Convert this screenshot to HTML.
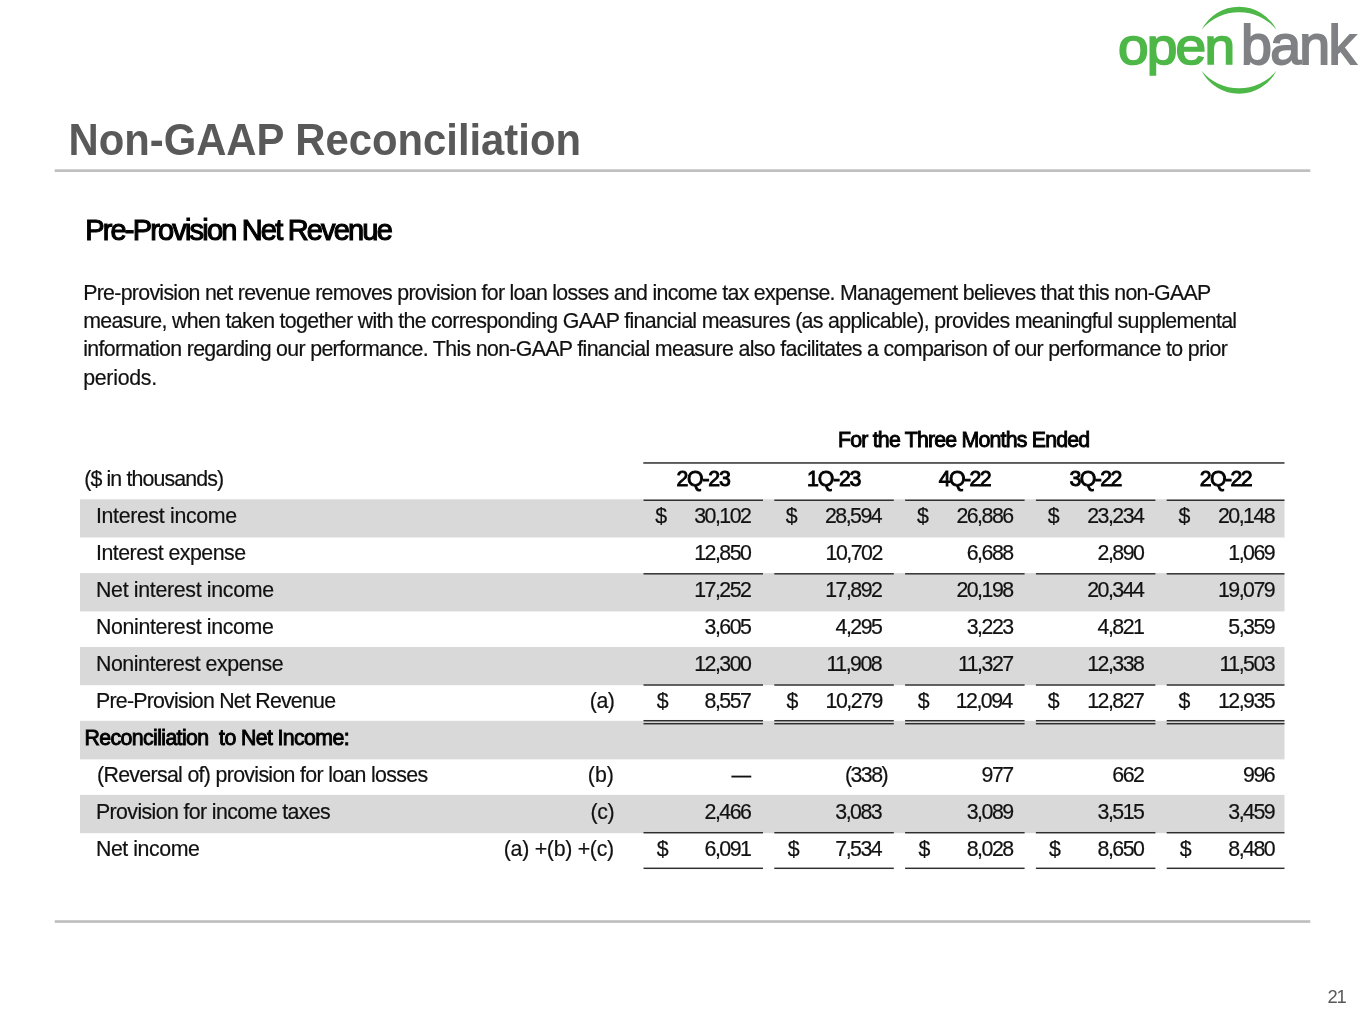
<!DOCTYPE html>
<html lang="en">
<head>
<meta charset="utf-8">
<title>Non-GAAP Reconciliation</title>
<style>
html,body{margin:0;padding:0;background:#fff;}
body{width:1365px;height:1024px;position:relative;overflow:hidden;font-family:"Liberation Sans",sans-serif;}
.abs{position:absolute;white-space:nowrap;line-height:1;}
.title{font-size:41.8px;font-weight:bold;color:#595959;transform-origin:0 35.4px;transform:scaleY(1.045);}
.sub{font-size:29px;color:#000;letter-spacing:-1px;-webkit-text-stroke:1.1px #000;}
.p{font-size:21.33px;color:#111;letter-spacing:-0.7px;-webkit-text-stroke:0.2px #111;}
.t{font-size:21.33px;color:#111;letter-spacing:-0.45px;-webkit-text-stroke:0.2px #111;}
.num{font-size:21.33px;color:#111;letter-spacing:-1.5px;-webkit-text-stroke:0.2px #111;}
.h{font-size:21.33px;color:#000;letter-spacing:-1.2px;-webkit-text-stroke:0.9px #000;}
.hb{font-size:21.33px;color:#000;letter-spacing:-0.9px;-webkit-text-stroke:0.9px #000;}
.lines{position:absolute;left:0;top:0;}
.pg{font-size:18.4px;color:#595959;}
.logo{position:absolute;left:1100px;top:0;}
</style>
</head>
<body>
<svg class="logo" width="265" height="105" viewBox="1100 0 265 105">
<path d="M1201.6 29.7 A41.9 41.9 0 0 1 1276.4 29.7 A48.7 48.7 0 0 0 1201.6 29.7 Z" fill="#4db748"/>
<path d="M1201.6 70.8 A41.9 41.9 0 0 0 1276.4 70.8 A48.7 48.7 0 0 1 1201.6 70.8 Z" fill="#4db748"/>
<g transform="translate(1117.9,64.1) scale(1.06,1)"><text x="0" y="0" font-family="Liberation Sans, sans-serif" font-size="52" fill="#4db748" stroke="#4db748" stroke-width="1.7" textLength="110.6" lengthAdjust="spacing">open</text></g>
<text x="1241.0" y="63.8" font-family="Liberation Sans, sans-serif" font-size="55.5" fill="#808184" stroke="#808184" stroke-width="1.8" textLength="115.2" lengthAdjust="spacing">bank</text>
</svg>
<svg class="lines" width="1365" height="1024" viewBox="0 0 1365 1024" fill="#d9d9d9">
<rect x="80" y="499.3" width="1204.5" height="38.2"/>
<rect x="80" y="573.1" width="1204.5" height="38.3"/>
<rect x="80" y="647.0" width="1204.5" height="38.2"/>
<rect x="80" y="720.8" width="1204.5" height="38.6"/>
<rect x="80" y="794.9" width="1204.5" height="38.3"/>
</svg>
<svg class="lines" width="1365" height="1024" viewBox="0 0 1365 1024" fill="#2e2e2e">
<rect x="643.3" y="462.2" width="641.2" height="1.5"/>
<rect x="643.5" y="499.53" width="119.5" height="1.45"/>
<rect x="774.3" y="499.53" width="119.5" height="1.45"/>
<rect x="905.1" y="499.53" width="119.5" height="1.45"/>
<rect x="1035.9" y="499.53" width="119.5" height="1.45"/>
<rect x="1166.7" y="499.53" width="117.8" height="1.45"/>
<rect x="643.5" y="573.08" width="119.5" height="1.45"/>
<rect x="774.3" y="573.08" width="119.5" height="1.45"/>
<rect x="905.1" y="573.08" width="119.5" height="1.45"/>
<rect x="1035.9" y="573.08" width="119.5" height="1.45"/>
<rect x="1166.7" y="573.08" width="117.8" height="1.45"/>
<rect x="643.5" y="684.28" width="119.5" height="1.45"/>
<rect x="774.3" y="684.28" width="119.5" height="1.45"/>
<rect x="905.1" y="684.28" width="119.5" height="1.45"/>
<rect x="1035.9" y="684.28" width="119.5" height="1.45"/>
<rect x="1166.7" y="684.28" width="117.8" height="1.45"/>
<rect x="643.5" y="719.98" width="119.5" height="1.45"/>
<rect x="774.3" y="719.98" width="119.5" height="1.45"/>
<rect x="905.1" y="719.98" width="119.5" height="1.45"/>
<rect x="1035.9" y="719.98" width="119.5" height="1.45"/>
<rect x="1166.7" y="719.98" width="117.8" height="1.45"/>
<rect x="643.5" y="722.98" width="119.5" height="1.45"/>
<rect x="774.3" y="722.98" width="119.5" height="1.45"/>
<rect x="905.1" y="722.98" width="119.5" height="1.45"/>
<rect x="1035.9" y="722.98" width="119.5" height="1.45"/>
<rect x="1166.7" y="722.98" width="117.8" height="1.45"/>
<rect x="643.5" y="831.98" width="119.5" height="1.45"/>
<rect x="774.3" y="831.98" width="119.5" height="1.45"/>
<rect x="905.1" y="831.98" width="119.5" height="1.45"/>
<rect x="1035.9" y="831.98" width="119.5" height="1.45"/>
<rect x="1166.7" y="831.98" width="117.8" height="1.45"/>
<rect x="643.5" y="867.58" width="119.5" height="1.45"/>
<rect x="774.3" y="867.58" width="119.5" height="1.45"/>
<rect x="905.1" y="867.58" width="119.5" height="1.45"/>
<rect x="1035.9" y="867.58" width="119.5" height="1.45"/>
<rect x="1166.7" y="867.58" width="117.8" height="1.45"/>
<rect x="54.7" y="169.3" width="1255.6" height="2.67" fill="#bfbfbf"/>
<rect x="54.7" y="920.2" width="1255.6" height="2.67" fill="#bfbfbf"/>
</svg>
<div id="title" class="abs title" style="top:119.82px;left:68.50px;">Non-GAAP Reconciliation</div>
<div id="sub" class="abs sub" style="top:215.85px;left:85.20px;letter-spacing:-1.825px;">Pre-Provision Net Revenue</div>
<div id="p1" class="abs p" style="top:283.00px;left:83.20px;">Pre-provision net revenue removes provision for loan losses and income tax expense. Management believes that this non-GAAP</div>
<div id="p2" class="abs p" style="top:311.00px;left:83.20px;letter-spacing:-0.673px;">measure, when taken together with the corresponding GAAP financial measures (as applicable), provides meaningful supplemental</div>
<div id="p3" class="abs p" style="top:339.00px;left:83.20px;letter-spacing:-0.661px;">information regarding our performance. This non-GAAP financial measure also facilitates a comparison of our performance to prior</div>
<div id="p4" class="abs p" style="top:368.00px;left:83.20px;letter-spacing:-0.271px;">periods.</div>
<div id="h0" class="abs h" style="top:430.00px;left:838.00px;letter-spacing:-0.804px;">For the Three Months Ended</div>
<div id="hc0" class="abs h" style="top:469.00px;left:676.40px;">2Q-23</div>
<div id="hc1" class="abs h" style="top:469.00px;left:807.00px;">1Q-23</div>
<div id="hc2" class="abs h" style="top:469.00px;left:938.80px;letter-spacing:-1.600px;">4Q-22</div>
<div id="hc3" class="abs h" style="top:469.00px;left:1069.60px;letter-spacing:-1.600px;">3Q-22</div>
<div id="hc4" class="abs h" style="top:469.00px;left:1199.80px;letter-spacing:-1.600px;">2Q-22</div>
<div id="u" class="abs t" style="top:469.00px;left:84.20px;letter-spacing:-0.870px;">($ in thousands)</div>
<div id="l0" class="abs t" style="top:506.00px;left:96.00px;letter-spacing:-0.336px;">Interest income</div>
<div id="l1" class="abs t" style="top:543.00px;left:96.00px;letter-spacing:-0.510px;">Interest expense</div>
<div id="l2" class="abs t" style="top:580.00px;left:96.00px;letter-spacing:-0.318px;">Net interest income</div>
<div id="l3" class="abs t" style="top:617.00px;left:96.00px;letter-spacing:-0.344px;">Noninterest income</div>
<div id="l4" class="abs t" style="top:654.00px;left:96.00px;">Noninterest expense</div>
<div id="l5" class="abs t" style="top:691.00px;left:96.00px;letter-spacing:-0.767px;">Pre-Provision Net Revenue</div>
<div id="l6" class="abs hb" style="top:728.00px;left:84.50px;letter-spacing:-0.627px;">Reconciliation&nbsp; to Net Income:</div>
<div id="l7" class="abs t" style="top:765.00px;left:97.00px;letter-spacing:-0.676px;">(Reversal of) provision for loan losses</div>
<div id="l8" class="abs t" style="top:802.00px;left:96.00px;letter-spacing:-0.614px;">Provision for income taxes</div>
<div id="l9" class="abs t" style="top:839.00px;left:96.00px;">Net income</div>
<div id="n5" class="abs t" style="top:691.00px;left:589.80px;">(a)</div>
<div id="n7" class="abs t" style="top:765.00px;left:587.80px;letter-spacing:0.050px;">(b)</div>
<div id="n8" class="abs t" style="top:802.00px;left:590.60px;">(c)</div>
<div id="n9" class="abs t" style="top:839.00px;left:503.80px;letter-spacing:-0.283px;">(a) +(b) +(c)</div>
<div id="d0_0" class="abs num" style="top:506.00px;right:614.60px;">30,102</div>
<div id="d0_1" class="abs num" style="top:506.00px;right:483.80px;">28,594</div>
<div id="d0_2" class="abs num" style="top:506.00px;right:352.40px;">26,886</div>
<div id="d0_3" class="abs num" style="top:506.00px;right:221.60px;">23,234</div>
<div id="d0_4" class="abs num" style="top:506.00px;right:90.80px;">20,148</div>
<div id="s0_0" class="abs t" style="top:506.00px;left:655.30px;">$</div>
<div id="s0_1" class="abs t" style="top:506.00px;left:785.70px;">$</div>
<div id="s0_2" class="abs t" style="top:506.00px;left:917.10px;">$</div>
<div id="s0_3" class="abs t" style="top:506.00px;left:1047.70px;">$</div>
<div id="s0_4" class="abs t" style="top:506.00px;left:1178.50px;">$</div>
<div id="d1_0" class="abs num" style="top:543.00px;right:614.60px;">12,850</div>
<div id="d1_1" class="abs num" style="top:543.00px;right:483.20px;">10,702</div>
<div id="d1_2" class="abs num" style="top:543.00px;right:352.40px;">6,688</div>
<div id="d1_3" class="abs num" style="top:543.00px;right:221.60px;">2,890</div>
<div id="d1_4" class="abs num" style="top:543.00px;right:90.80px;">1,069</div>
<div id="d2_0" class="abs num" style="top:580.00px;right:614.60px;">17,252</div>
<div id="d2_1" class="abs num" style="top:580.00px;right:483.60px;">17,892</div>
<div id="d2_2" class="abs num" style="top:580.00px;right:352.40px;">20,198</div>
<div id="d2_3" class="abs num" style="top:580.00px;right:221.60px;">20,344</div>
<div id="d2_4" class="abs num" style="top:580.00px;right:90.80px;">19,079</div>
<div id="d3_0" class="abs num" style="top:617.00px;right:614.60px;">3,605</div>
<div id="d3_1" class="abs num" style="top:617.00px;right:483.60px;">4,295</div>
<div id="d3_2" class="abs num" style="top:617.00px;right:352.40px;">3,223</div>
<div id="d3_3" class="abs num" style="top:617.00px;right:221.60px;">4,821</div>
<div id="d3_4" class="abs num" style="top:617.00px;right:90.80px;">5,359</div>
<div id="d4_0" class="abs num" style="top:654.00px;right:614.60px;">12,300</div>
<div id="d4_1" class="abs num" style="top:654.00px;right:483.80px;">11,908</div>
<div id="d4_2" class="abs num" style="top:654.00px;right:352.40px;">11,327</div>
<div id="d4_3" class="abs num" style="top:654.00px;right:221.60px;">12,338</div>
<div id="d4_4" class="abs num" style="top:654.00px;right:90.80px;">11,503</div>
<div id="d5_0" class="abs num" style="top:691.00px;right:614.60px;">8,557</div>
<div id="d5_1" class="abs num" style="top:691.00px;right:483.20px;">10,279</div>
<div id="d5_2" class="abs num" style="top:691.00px;right:353.10px;">12,094</div>
<div id="d5_3" class="abs num" style="top:691.00px;right:221.60px;">12,827</div>
<div id="d5_4" class="abs num" style="top:691.00px;right:90.80px;">12,935</div>
<div id="s5_0" class="abs t" style="top:691.00px;left:656.70px;">$</div>
<div id="s5_1" class="abs t" style="top:691.00px;left:786.50px;">$</div>
<div id="s5_2" class="abs t" style="top:691.00px;left:917.76px;">$</div>
<div id="s5_3" class="abs t" style="top:691.00px;left:1047.70px;">$</div>
<div id="s5_4" class="abs t" style="top:691.00px;left:1178.50px;">$</div>
<div id="d7_0" class="abs num" style="top:765.00px;right:615.20px;transform-origin:100% 50%;transform:scaleX(0.92);">&mdash;</div>
<div id="d7_1" class="abs num" style="top:765.00px;right:477.80px;">(338)</div>
<div id="d7_2" class="abs num" style="top:765.00px;right:352.40px;">977</div>
<div id="d7_3" class="abs num" style="top:765.00px;right:221.60px;">662</div>
<div id="d7_4" class="abs num" style="top:765.00px;right:90.80px;">996</div>
<div id="d8_0" class="abs num" style="top:802.00px;right:614.60px;">2,466</div>
<div id="d8_1" class="abs num" style="top:802.00px;right:483.80px;">3,083</div>
<div id="d8_2" class="abs num" style="top:802.00px;right:352.40px;">3,089</div>
<div id="d8_3" class="abs num" style="top:802.00px;right:221.60px;">3,515</div>
<div id="d8_4" class="abs num" style="top:802.00px;right:90.80px;">3,459</div>
<div id="d9_0" class="abs num" style="top:839.00px;right:614.60px;">6,091</div>
<div id="d9_1" class="abs num" style="top:839.00px;right:483.80px;">7,534</div>
<div id="d9_2" class="abs num" style="top:839.00px;right:352.40px;">8,028</div>
<div id="d9_3" class="abs num" style="top:839.00px;right:221.60px;">8,650</div>
<div id="d9_4" class="abs num" style="top:839.00px;right:90.80px;">8,480</div>
<div id="s9_0" class="abs t" style="top:839.00px;left:656.70px;">$</div>
<div id="s9_1" class="abs t" style="top:839.00px;left:787.80px;">$</div>
<div id="s9_2" class="abs t" style="top:839.00px;left:918.60px;">$</div>
<div id="s9_3" class="abs t" style="top:839.00px;left:1049.05px;">$</div>
<div id="s9_4" class="abs t" style="top:839.00px;left:1179.70px;">$</div>
<div id="pg" class="abs pg" style="top:987.52px;left:1327.40px;letter-spacing:-1.200px;">21</div>
</body>
</html>
